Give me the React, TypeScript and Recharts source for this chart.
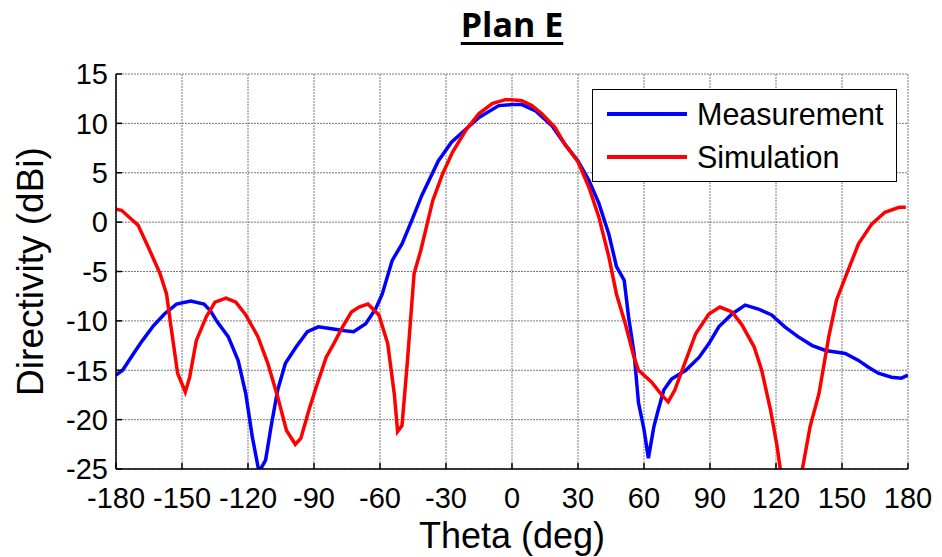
import React from 'react';
import { LineChart, Line, XAxis, YAxis, CartesianGrid, Legend } from 'recharts';

// Measured pattern (theta in deg, directivity in dBi)
const measTheta = [
  -180, -177, -172, -168, -163, -158, -152.5, -146, -140, -137, -134, -129, -124.5, -121, -118, -115,
  -112, -109.5, -106.5, -103, -98, -93, -88, -82, -76, -72, -66.5, -62, -59, -54.5, -50, -45.5, -41,
  -33.5, -27.5, -21, -15, -6, 0, 4.5, 10.5, 18, 24, 30, 35, 39.5, 44, 47.5, 51, 53, 55.5, 57.5, 60,
  62, 64.5, 66.5, 69, 72.5, 79, 85, 89.5, 94, 100, 106, 112, 118, 124, 130, 136.5, 142.5, 151.5,
  157.5, 162, 166.5, 172.5, 177, 180,
];
const measDbi = [
  -15.5, -15.0, -13.3, -12.0, -10.5, -9.3, -8.3, -8.0, -8.3, -9.0, -10.1, -11.6, -14.0, -17.4, -21.8, -25.3,
  -24.1, -20.7, -17.0, -14.3, -12.6, -11.1, -10.6, -10.8, -11.0, -11.1, -10.3, -8.8, -7.3, -3.9, -2.2, 0.2, 2.7,
  6.2, 8.1, 9.4, 10.6, 11.8, 11.9, 11.9, 11.3, 9.8, 7.9, 6.2, 4.2, 1.9, -1.2, -4.5, -5.9, -9.6, -13.3, -18.3, -21.0,
  -23.9, -20.7, -19.0, -17.0, -15.9, -15.0, -13.7, -12.3, -10.6, -9.3, -8.4, -8.8, -9.4, -10.6, -11.6, -12.5, -13.0, -13.3,
  -14.0, -14.7, -15.3, -15.7, -15.8, -15.5,
];

// Simulated pattern
const simTheta = [
  -180, -177.5, -174, -170, -165, -160, -157, -155, -152, -148.5, -146.5, -143.5, -139, -135, -130, -125.5,
  -121, -115.5, -111, -106.5, -102.5, -98.5, -96, -92, -89, -84.5, -81, -77, -73, -69.5, -65.5, -60.5,
  -56.5, -53.5, -52, -50, -47.5, -44.5, -41.5, -36, -31.5, -27, -21, -15, -9, -3, 0, 4.5, 9, 13.5, 19.5,
  24, 30, 35, 39.5, 44, 47.5, 51.5, 55.5, 57.5, 63.5, 68, 71, 74, 79, 83.5, 89.5, 94.5, 100, 104.5, 110,
  113.5, 117.5, 120.5, 122, 124, 127, 130, 132, 135.5, 139.5, 144, 147.5, 151.5, 157.5, 163.5, 169.5, 176, 179,
];
const simDbi = [
  1.3, 1.2, 0.5, -0.3, -2.7, -5.2, -7.3, -10.6, -15.3, -17.2, -15.7, -12.0, -9.6, -8.1, -7.7, -8.1,
  -9.4, -11.6, -14.3, -17.7, -21.1, -22.5, -21.9, -18.8, -16.7, -13.7, -12.3, -10.6, -9.1, -8.6, -8.3, -9.4,
  -12.3, -17.4, -21.2, -20.6, -14.0, -5.2, -2.9, 2.2, 4.9, 7.1, 9.3, 11.0, 12.0, 12.4, 12.4, 12.3, 11.8, 11.0, 9.6,
  7.9, 6.1, 3.5, 0.5, -3.5, -7.3, -10.3, -13.7, -15.0, -16.2, -17.5, -18.2, -17.0, -14.0, -11.3, -9.3, -8.6, -9.1, -10.4, -12.6,
  -15.0, -19.0, -22.7, -25.1, -28.0, -29.0, -27.0, -25.0, -20.7, -17.4, -11.6, -7.9, -5.6, -2.2, -0.2, 1.0, 1.5, 1.5,
];

const xTicks = [-180, -150, -120, -90, -60, -30, 0, 30, 60, 90, 120, 150, 180];
const yTicks = [-25, -20, -15, -10, -5, 0, 5, 10, 15];

const measData = measTheta.map((t, i) => ({ theta: t, dbi: measDbi[i] }));
const simData = simTheta.map((t, i) => ({ theta: t, dbi: simDbi[i] }));

const FONT = '"Liberation Sans", Arial, sans-serif';

function LegendBox(props: any) {
  const payload = props.payload || [];
  return (
    <div
      style={{
        width: 303,
        height: 91,
        border: '1.5px solid #000',
        background: '#fff',
        fontFamily: FONT,
        position: 'relative',
      }}
    >
      {payload.map((p: any, i: number) => (
        <div
          key={p.value}
          style={{ position: 'absolute', left: 14, top: 6 + i * 43, height: 36, display: 'flex', alignItems: 'center' }}
        >
          <span style={{ display: 'inline-block', width: 80, height: 3.5, background: p.color, marginRight: 10 }} />
          <span style={{ fontSize: 30.5, color: '#000', lineHeight: '36px', whiteSpace: 'nowrap' }}>{p.value}</span>
        </div>
      ))}
    </div>
  );
}

const yLabel = (props: any) => {
  const vb = props.viewBox || { x: 0, y: 74, height: 395 };
  const cx = vb.x + 43;
  const cy = vb.y + vb.height / 2;
  return (
    <text x={cx} y={cy} transform={`rotate(-90 ${cx} ${cy})`} textAnchor="middle" fontSize={37} fontFamily={FONT} fill="#000">
      Directivity (dBi)
    </text>
  );
};

const xLabel = (props: any) => {
  const vb = props.viewBox || { x: 116, y: 469, width: 792 };
  return (
    <text x={vb.x + vb.width / 2} y={vb.y + 79} textAnchor="middle" fontSize={36} fontFamily={FONT} fill="#000">
      Theta (deg)
    </text>
  );
};

export default function App() {
  const tickStyle = { fontSize: 29, fontFamily: FONT, fill: '#000' };
  return (
    <div style={{ position: 'absolute', left: 0, top: 0, width: 942, height: 557, background: '#fff' }}>
      <div
        style={{
          position: 'absolute',
          left: 116,
          top: 4,
          width: 792,
          textAlign: 'center',
          fontFamily: '"Open Sans", sans-serif',
          fontWeight: 700,
          fontSize: 34,
          lineHeight: '40px',
          textDecoration: 'underline',
          textDecorationThickness: 3,
          textUnderlineOffset: 5,
          color: '#000',
        }}
      >
        Plan E
      </div>
      <LineChart width={942} height={557} margin={{ top: 74, right: 34, bottom: 0, left: 0 }}>
        <CartesianGrid stroke="#7a7a7a" strokeDasharray="2 1" strokeWidth={1} />
        <XAxis
          dataKey="theta"
          type="number"
          domain={[-180, 180]}
          ticks={xTicks}
          allowDataOverflow
          height={88}
          tick={tickStyle}
          tickSize={-6}
          tickMargin={24}
          interval={0}
          stroke="#000"
          strokeWidth={1.5}
          label={xLabel}
        />
        <XAxis
          xAxisId="top"
          orientation="top"
          type="number"
          domain={[-180, 180]}
          ticks={xTicks}
          height={0}
          tick={false}
          tickSize={-6}
          stroke="#000"
          strokeWidth={1.5}
        />
        <YAxis
          type="number"
          domain={[-25, 15]}
          ticks={yTicks}
          allowDataOverflow
          width={116}
          tick={tickStyle}
          tickSize={-6}
          tickMargin={14}
          interval={0}
          stroke="#000"
          strokeWidth={1.5}
          label={yLabel}
        />
        <YAxis
          yAxisId="right"
          orientation="right"
          type="number"
          domain={[-25, 15]}
          ticks={yTicks}
          width={0}
          tick={false}
          tickSize={-6}
          stroke="#000"
          strokeWidth={1.5}
        />
        <Legend
          layout="vertical"
          align="center"
          verticalAlign="middle"
          content={LegendBox}
          wrapperStyle={{ left: 592, top: 89, width: 'auto', height: 'auto' }}
        />
        <Line
          data={measData}
          dataKey="dbi"
          name="Measurement"
          type="linear"
          stroke="#0000ff"
          strokeWidth={3.5}
          dot={false}
          activeDot={false}
          isAnimationActive={false}
        />
        <Line
          data={simData}
          dataKey="dbi"
          name="Simulation"
          type="linear"
          stroke="#ff0000"
          strokeWidth={3.5}
          dot={false}
          activeDot={false}
          isAnimationActive={false}
        />
      </LineChart>
    </div>
  );
}
